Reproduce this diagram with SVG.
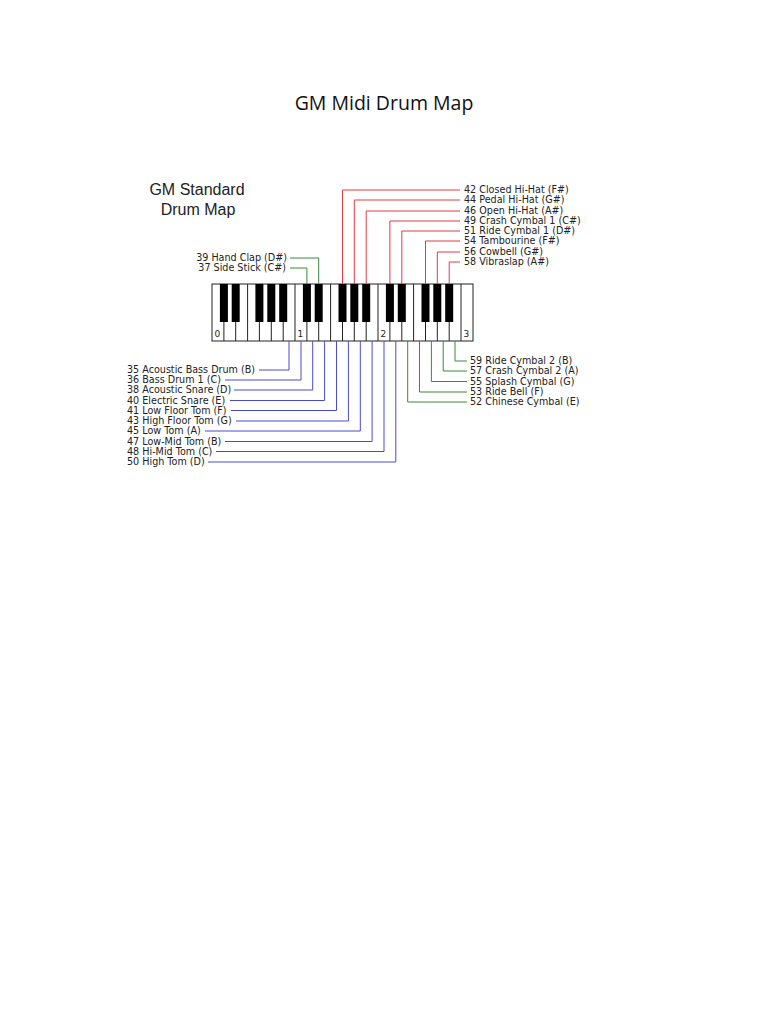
<svg xmlns="http://www.w3.org/2000/svg" width="768" height="1024" viewBox="0 0 768 1024">
<style>
.t{font-family:"DejaVu Sans",Verdana,sans-serif;font-size:9.6px;fill:#222}
.b{fill:#000}
.r{stroke:#e03a44;fill:none;stroke-width:1}
.g{stroke:#3a8a3a;fill:none;stroke-width:1}
.u{stroke:#4a4ad0;fill:none;stroke-width:1}
</style>
<rect width="768" height="1024" fill="#fff"/>
<text x="384" y="110" text-anchor="middle" font-family="Open Sans,sans-serif" font-size="19.5" fill="#111">GM Midi Drum Map</text>
<g id="heading" font-family="Liberation Sans,Arial,sans-serif" font-size="16" fill="#222" text-anchor="middle">
<text x="197" y="195">GM Standard</text><text x="198" y="215">Drum Map</text></g>
<g id="keyboard">
<rect x="212" y="284" width="261" height="57" fill="#fff" stroke="#222"/>
<g stroke="#222" stroke-width="1">
<line x1="223.9" y1="284" x2="223.9" y2="341"/><line x1="235.7" y1="284" x2="235.7" y2="341"/><line x1="247.6" y1="284" x2="247.6" y2="341"/><line x1="259.4" y1="284" x2="259.4" y2="341"/><line x1="271.3" y1="284" x2="271.3" y2="341"/><line x1="283.2" y1="284" x2="283.2" y2="341"/><line x1="295" y1="284" x2="295" y2="341"/><line x1="306.9" y1="284" x2="306.9" y2="341"/><line x1="318.7" y1="284" x2="318.7" y2="341"/><line x1="330.6" y1="284" x2="330.6" y2="341"/><line x1="342.5" y1="284" x2="342.5" y2="341"/><line x1="354.3" y1="284" x2="354.3" y2="341"/><line x1="366.2" y1="284" x2="366.2" y2="341"/><line x1="378" y1="284" x2="378" y2="341"/><line x1="389.9" y1="284" x2="389.9" y2="341"/><line x1="401.8" y1="284" x2="401.8" y2="341"/><line x1="413.6" y1="284" x2="413.6" y2="341"/><line x1="425.5" y1="284" x2="425.5" y2="341"/><line x1="437.3" y1="284" x2="437.3" y2="341"/><line x1="449.2" y1="284" x2="449.2" y2="341"/><line x1="461" y1="284" x2="461" y2="341"/>
</g>
<g class="b">
<rect x="219.9" y="284" width="8" height="38"/><rect x="231.7" y="284" width="8" height="38"/>
<rect x="255.4" y="284" width="8" height="38"/><rect x="267.3" y="284" width="8" height="38"/><rect x="279.2" y="284" width="8" height="38"/>
<rect x="302.9" y="284" width="8" height="38"/><rect x="314.7" y="284" width="8" height="38"/>
<rect x="338.5" y="284" width="8" height="38"/><rect x="350.3" y="284" width="8" height="38"/><rect x="362.2" y="284" width="8" height="38"/>
<rect x="385.9" y="284" width="8" height="38"/><rect x="397.8" y="284" width="8" height="38"/>
<rect x="421.5" y="284" width="8" height="38"/><rect x="433.3" y="284" width="8" height="38"/><rect x="445.2" y="284" width="8" height="38"/>
</g>
<g class="t"><text x="214.5" y="337" style="font-size:9px">0</text><text x="297.5" y="337" style="font-size:9px">1</text><text x="380.5" y="337" style="font-size:9px">2</text><text x="463.5" y="337" style="font-size:9px">3</text></g>
</g>
<g id="connectors">
<path class="r" d="M342.5 284V190H460M354.3 284V200H460M366.2 284V211H460M389.9 284V221H460M401.8 284V231H460M425.5 284V241H460M437.3 284V252H460M449.2 284V262H460"/>
<path class="g" d="M290 258H318.7V284M290 268H306.9V284"/>
<path class="g" d="M455 341V361H467M443.2 341V371H467M431.4 341V381.5H467M419.5 341V392H467M407.7 341V402H467"/>
<path class="u" d="M259 370H289V341M225 380H301V341M234 390H312.7V341M230 400.5H324.6V341M231 410.5H336.5V341M236 421H348.4V341M205 431H360.3V341M225 441.5H372.1V341M216 451.5H384V341M208 462H395.8V341"/>
</g>
<g id="labels" class="t">
<text x="464" y="193">42 Closed Hi-Hat (F#)</text>
<text x="464" y="203">44 Pedal Hi-Hat (G#)</text>
<text x="464" y="214">46 Open Hi-Hat (A#)</text>
<text x="464" y="224">49 Crash Cymbal 1 (C#)</text>
<text x="464" y="234">51 Ride Cymbal 1 (D#)</text>
<text x="464" y="244">54 Tambourine (F#)</text>
<text x="464" y="255">56 Cowbell (G#)</text>
<text x="464" y="265">58 Vibraslap (A#)</text>
<text x="287" y="261" text-anchor="end">39 Hand Clap (D#)</text>
<text x="286" y="271" text-anchor="end">37 Side Stick (C#)</text>
<text x="470" y="364">59 Ride Cymbal 2 (B)</text>
<text x="470" y="374">57 Crash Cymbal 2 (A)</text>
<text x="470" y="384.5">55 Splash Cymbal (G)</text>
<text x="470" y="395">53 Ride Bell (F)</text>
<text x="470" y="405">52 Chinese Cymbal (E)</text>
<text x="127" y="373">35 Acoustic Bass Drum (B)</text>
<text x="127" y="383">36 Bass Drum 1 (C)</text>
<text x="127" y="393">38 Acoustic Snare (D)</text>
<text x="127" y="403.5">40 Electric Snare (E)</text>
<text x="127" y="413.5">41 Low Floor Tom (F)</text>
<text x="127" y="424">43 High Floor Tom (G)</text>
<text x="127" y="434">45 Low Tom (A)</text>
<text x="127" y="444.5">47 Low-Mid Tom (B)</text>
<text x="127" y="454.5">48 Hi-Mid Tom (C)</text>
<text x="127" y="465">50 High Tom (D)</text>
</g>
</svg>
